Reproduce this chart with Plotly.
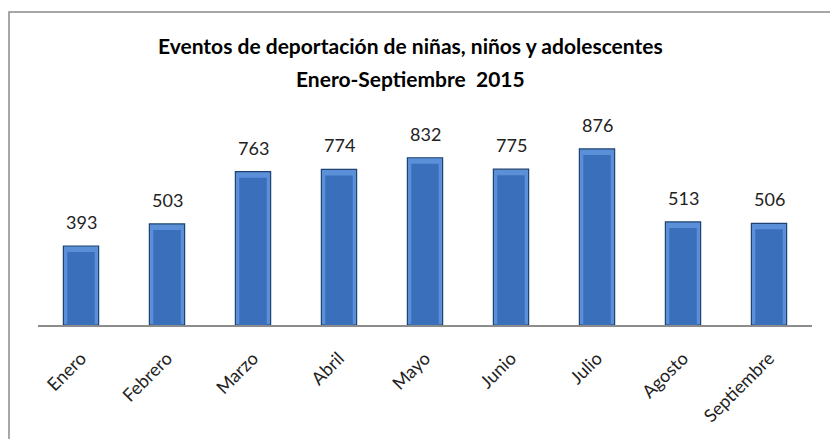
import plotly.graph_objects as go

months = ["Enero", "Febrero", "Marzo", "Abril", "Mayo", "Junio", "Julio", "Agosto", "Septiembre"]
events = [393, 503, 763, 774, 832, 775, 876, 513, 506]
title_lines = ["Eventos de deportación de niñas, niños y adolescentes", "Enero-Septiembre  2015"]

W, H = 830, 439
FONT = "Lato, Calibri, sans-serif"
BEVEL = 30  # depth of the bevel highlight, in value units

def px(x):
    return x / W

def py(y):
    return 1 - y / H

fig = go.Figure()
# outer bar (top bevel highlight + darker rim)
fig.add_trace(go.Bar(
    x=months, y=events,
    width=0.41,
    marker=dict(color="#5b90d8", line=dict(color="#1d4270", width=1.2)),
    cliponaxis=False,
    hoverinfo="x+y",
))
# inner body of the bar
fig.add_trace(go.Bar(
    x=months, y=[v - BEVEL for v in events],
    width=0.32,
    marker=dict(color="#3a70bb", line=dict(width=0)),
    hoverinfo="skip",
))

annotations = [
    dict(text="<b>" + title_lines[0] + "</b>",
         xref="paper", yref="paper", x=px(410), y=py(56), xanchor="center", yanchor="bottom",
         yshift=-4, showarrow=False, font=dict(family=FONT, size=21, color="black")),
    dict(text="<b>" + title_lines[1] + "</b>",
         xref="paper", yref="paper", x=px(410), y=py(89), xanchor="center", yanchor="bottom",
         yshift=-4, showarrow=False, font=dict(family=FONT, size=21, color="black")),
]
for m, v in zip(months, events):
    annotations.append(dict(
        x=m, y=v, xref="x", yref="y", text=str(v), showarrow=False,
        yanchor="bottom", yshift=11, font=dict(family=FONT, size=18, color="#222222"),
    ))

fig.update_layout(
    width=W, height=H,
    margin=dict(l=0, r=0, t=0, b=0),
    paper_bgcolor="white", plot_bgcolor="white",
    showlegend=False,
    barmode="overlay",
    font=dict(family=FONT),
    xaxis=dict(domain=[px(38), px(812)], showgrid=False, showline=True,
               linecolor="#8c8c8c", linewidth=1.5, ticks="outside", ticklen=14,
               tickcolor="rgba(0,0,0,0)", tickangle=-45,
               tickfont=dict(family=FONT, size=18, color="#222222")),
    yaxis=dict(domain=[py(325), py(124)], range=[0, 1000], visible=False),
    annotations=annotations,
    shapes=[
        dict(type="rect", xref="paper", yref="paper", x0=px(9), y0=-0.05, x1=1.05, y1=py(12),
             line=dict(color="#8a8a8a", width=1.5), fillcolor="rgba(0,0,0,0)", layer="below"),
    ],
)

fig.write_html("out.html", config={"displayModeBar": False},
               post_script="document.body.style.margin='0';document.body.style.padding='0';")
